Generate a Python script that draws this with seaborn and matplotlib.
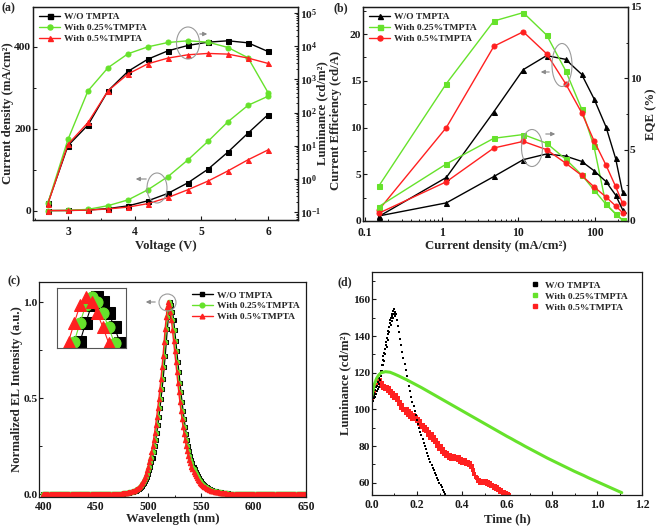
import numpy as np
import pandas as pd
import matplotlib
matplotlib.use("Agg")
import matplotlib.pyplot as plt
import seaborn as sns
from matplotlib.patches import Ellipse
from matplotlib.lines import Line2D
from matplotlib.ticker import MultipleLocator, LogLocator, FuncFormatter, NullFormatter

# ---------------- data ----------------
labels = ["W/O TMPTA", "With 0.25%TMPTA", "With 0.5%TMPTA"]

# (a) J-V-L
voltage = [2.7, 3.0, 3.3, 3.6, 3.9, 4.2, 4.5, 4.8, 5.1, 5.4, 5.7, 6.0]
j_wo = [0.0, 0.2, 1.5, 4.8, 11.5, 24, 42, 68, 101, 143, 189, 234]
j_025 = [0.0, 0.5, 3.0, 12, 26, 51, 83, 124, 169, 217, 257, 279]
j_05 = [0.0, 0.2, 1.0, 4.0, 8.5, 17, 32, 51, 72, 97, 124, 148]
lum_wo = [0.19, 10, 42, 450, 1740, 4070, 7240, 10500, 13200, 14500, 12600, 6900]
lum_025 = [0.19, 15.5, 450, 2240, 5900, 9550, 12900, 14500, 13200, 9100, 4470, 400]
lum_05 = [0.18, 11, 50, 450, 1450, 2950, 4370, 5500, 6030, 5750, 4370, 3020]

# (b) efficiency vs current density
jb = [0.15, 1.15, 4.8, 11.6, 23.4, 41.4, 67, 97, 139, 186, 229]
ce_wo = [0.47, 4.66, 11.7, 16.2, 17.7, 17.3, 15.7, 13.1, 10.1, 6.7, 3.1]
ce_025 = [3.7, 14.7, 21.4, 22.3, 19.9, 16.1, 12.0, 8.0, 1.8, 0.75, 0.1]
ce_05 = [1.15, 10.0, 18.7, 20.25, 17.9, 14.7, 11.6, 8.6, 6.0, 3.7, 1.9]
eqe_wo = [0.35, 1.27, 3.12, 4.3, 4.7, 4.55, 4.18, 3.53, 2.77, 1.82, 0.8]
eqe_025 = [1.0, 4.0, 5.8, 6.06, 5.45, 4.34, 3.24, 2.18, 1.18, 0.52, 0.07]
eqe_05 = [0.54, 2.75, 5.12, 5.58, 5.0, 4.06, 3.2, 2.4, 1.69, 1.06, 0.59]

# (c) EL spectra, 400-650 nm in 1 nm steps
wavelength = np.arange(400, 651, 1)
el_wo = [
    0.003, 0.003, 0.003, 0.003, 0.003, 0.003, 0.003, 0.003, 0.003, 0.003,  # 400
    0.003, 0.003, 0.003, 0.003, 0.003, 0.003, 0.003, 0.003, 0.003, 0.003,  # 410
    0.003, 0.003, 0.003, 0.003, 0.003, 0.003, 0.003, 0.003, 0.003, 0.003,  # 420
    0.003, 0.003, 0.003, 0.003, 0.003, 0.003, 0.003, 0.003, 0.003, 0.003,  # 430
    0.003, 0.003, 0.003, 0.003, 0.003, 0.003, 0.003, 0.003, 0.003, 0.003,  # 440
    0.003, 0.003, 0.003, 0.003, 0.003, 0.003, 0.003, 0.003, 0.003, 0.003,  # 450
    0.003, 0.004, 0.004, 0.004, 0.004, 0.004, 0.004, 0.004, 0.004, 0.004,  # 460
    0.004, 0.005, 0.005, 0.005, 0.005, 0.005, 0.005, 0.006, 0.006, 0.007,  # 470
    0.008, 0.009, 0.010, 0.011, 0.012, 0.014, 0.016, 0.018, 0.020, 0.023,  # 480
    0.026, 0.030, 0.034, 0.039, 0.045, 0.052, 0.060, 0.069, 0.080, 0.093,  # 490
    0.108, 0.125, 0.145, 0.167, 0.192, 0.220, 0.251, 0.285, 0.322, 0.362,  # 500
    0.405, 0.450, 0.497, 0.546, 0.600, 0.660, 0.720, 0.790, 0.860, 0.920,  # 510
    0.975, 1.000, 0.985, 0.950, 0.905, 0.855, 0.800, 0.745, 0.690, 0.635,  # 520
    0.580, 0.530, 0.480, 0.435, 0.392, 0.352, 0.316, 0.283, 0.253, 0.226,  # 530
    0.202, 0.181, 0.162, 0.145, 0.130, 0.117, 0.105, 0.094, 0.085, 0.076,  # 540
    0.069, 0.062, 0.056, 0.050, 0.045, 0.041, 0.037, 0.033, 0.030, 0.027,  # 550
    0.025, 0.022, 0.020, 0.018, 0.017, 0.015, 0.014, 0.013, 0.012, 0.011,  # 560
    0.010, 0.009, 0.008, 0.008, 0.007, 0.007, 0.006, 0.005, 0.005, 0.005,  # 570
    0.005, 0.005, 0.005, 0.005, 0.005, 0.005, 0.005, 0.004, 0.004, 0.004,  # 580
    0.004, 0.004, 0.004, 0.004, 0.004, 0.004, 0.004, 0.004, 0.004, 0.004,  # 590
    0.004, 0.004, 0.003, 0.003, 0.003, 0.003, 0.003, 0.003, 0.003, 0.003,  # 600
    0.003, 0.003, 0.003, 0.003, 0.003, 0.003, 0.003, 0.003, 0.003, 0.003,  # 610
    0.003, 0.003, 0.003, 0.003, 0.003, 0.003, 0.003, 0.003, 0.003, 0.003,  # 620
    0.003, 0.003, 0.003, 0.003, 0.003, 0.003, 0.003, 0.003, 0.003, 0.003,  # 630
    0.003, 0.003, 0.003, 0.003, 0.003, 0.003, 0.003, 0.003, 0.003, 0.003,  # 640
    0.003]
el_025 = [
    0.003, 0.003, 0.003, 0.003, 0.003, 0.003, 0.003, 0.003, 0.003, 0.003,  # 400
    0.003, 0.003, 0.003, 0.003, 0.003, 0.003, 0.003, 0.003, 0.003, 0.003,  # 410
    0.003, 0.003, 0.003, 0.003, 0.003, 0.003, 0.003, 0.003, 0.003, 0.003,  # 420
    0.003, 0.003, 0.003, 0.003, 0.003, 0.003, 0.003, 0.003, 0.003, 0.003,  # 430
    0.003, 0.003, 0.003, 0.003, 0.003, 0.003, 0.003, 0.003, 0.003, 0.003,  # 440
    0.003, 0.003, 0.003, 0.003, 0.003, 0.003, 0.003, 0.003, 0.003, 0.003,  # 450
    0.004, 0.004, 0.004, 0.004, 0.004, 0.004, 0.004, 0.004, 0.004, 0.004,  # 460
    0.005, 0.005, 0.005, 0.005, 0.005, 0.005, 0.006, 0.006, 0.007, 0.008,  # 470
    0.009, 0.010, 0.011, 0.012, 0.014, 0.016, 0.018, 0.020, 0.023, 0.026,  # 480
    0.030, 0.034, 0.039, 0.045, 0.052, 0.060, 0.069, 0.080, 0.093, 0.108,  # 490
    0.125, 0.145, 0.167, 0.192, 0.220, 0.251, 0.285, 0.322, 0.362, 0.405,  # 500
    0.450, 0.497, 0.546, 0.600, 0.660, 0.720, 0.790, 0.860, 0.920, 0.975,  # 510
    1.000, 0.985, 0.950, 0.905, 0.855, 0.800, 0.745, 0.690, 0.635, 0.580,  # 520
    0.530, 0.480, 0.435, 0.392, 0.352, 0.316, 0.283, 0.253, 0.226, 0.202,  # 530
    0.181, 0.162, 0.145, 0.130, 0.117, 0.105, 0.094, 0.085, 0.076, 0.069,  # 540
    0.062, 0.056, 0.050, 0.045, 0.041, 0.037, 0.033, 0.030, 0.027, 0.025,  # 550
    0.022, 0.020, 0.018, 0.017, 0.015, 0.014, 0.013, 0.012, 0.011, 0.010,  # 560
    0.009, 0.008, 0.008, 0.007, 0.007, 0.006, 0.005, 0.005, 0.005, 0.005,  # 570
    0.005, 0.005, 0.005, 0.005, 0.005, 0.005, 0.004, 0.004, 0.004, 0.004,  # 580
    0.004, 0.004, 0.004, 0.004, 0.004, 0.004, 0.004, 0.004, 0.004, 0.004,  # 590
    0.004, 0.003, 0.003, 0.003, 0.003, 0.003, 0.003, 0.003, 0.003, 0.003,  # 600
    0.003, 0.003, 0.003, 0.003, 0.003, 0.003, 0.003, 0.003, 0.003, 0.003,  # 610
    0.003, 0.003, 0.003, 0.003, 0.003, 0.003, 0.003, 0.003, 0.003, 0.003,  # 620
    0.003, 0.003, 0.003, 0.003, 0.003, 0.003, 0.003, 0.003, 0.003, 0.003,  # 630
    0.003, 0.003, 0.003, 0.003, 0.003, 0.003, 0.003, 0.003, 0.003, 0.003,  # 640
    0.003]
el_05 = [
    0.003, 0.003, 0.003, 0.003, 0.003, 0.003, 0.003, 0.003, 0.003, 0.003,  # 400
    0.003, 0.003, 0.003, 0.003, 0.003, 0.003, 0.003, 0.003, 0.003, 0.003,  # 410
    0.003, 0.003, 0.003, 0.003, 0.003, 0.003, 0.003, 0.003, 0.003, 0.003,  # 420
    0.003, 0.003, 0.003, 0.003, 0.003, 0.003, 0.003, 0.003, 0.003, 0.003,  # 430
    0.003, 0.003, 0.003, 0.003, 0.003, 0.003, 0.003, 0.003, 0.003, 0.003,  # 440
    0.003, 0.003, 0.003, 0.003, 0.003, 0.003, 0.003, 0.003, 0.003, 0.004,  # 450
    0.004, 0.004, 0.004, 0.004, 0.004, 0.004, 0.004, 0.004, 0.004, 0.005,  # 460
    0.005, 0.005, 0.005, 0.005, 0.005, 0.006, 0.006, 0.007, 0.008, 0.009,  # 470
    0.010, 0.011, 0.012, 0.014, 0.016, 0.018, 0.020, 0.023, 0.026, 0.030,  # 480
    0.034, 0.039, 0.045, 0.052, 0.060, 0.069, 0.080, 0.093, 0.108, 0.125,  # 490
    0.145, 0.167, 0.192, 0.220, 0.251, 0.285, 0.322, 0.362, 0.405, 0.450,  # 500
    0.497, 0.546, 0.600, 0.660, 0.720, 0.790, 0.860, 0.920, 0.975, 1.000,  # 510
    0.985, 0.950, 0.905, 0.855, 0.800, 0.745, 0.690, 0.635, 0.580, 0.530,  # 520
    0.480, 0.435, 0.392, 0.352, 0.316, 0.283, 0.253, 0.226, 0.202, 0.181,  # 530
    0.162, 0.145, 0.130, 0.117, 0.105, 0.094, 0.085, 0.076, 0.069, 0.062,  # 540
    0.056, 0.050, 0.045, 0.041, 0.037, 0.033, 0.030, 0.027, 0.025, 0.022,  # 550
    0.020, 0.018, 0.017, 0.015, 0.014, 0.013, 0.012, 0.011, 0.010, 0.009,  # 560
    0.008, 0.008, 0.007, 0.007, 0.006, 0.005, 0.005, 0.005, 0.005, 0.005,  # 570
    0.005, 0.005, 0.005, 0.005, 0.005, 0.004, 0.004, 0.004, 0.004, 0.004,  # 580
    0.004, 0.004, 0.004, 0.004, 0.004, 0.004, 0.004, 0.004, 0.004, 0.004,  # 590
    0.003, 0.003, 0.003, 0.003, 0.003, 0.003, 0.003, 0.003, 0.003, 0.003,  # 600
    0.003, 0.003, 0.003, 0.003, 0.003, 0.003, 0.003, 0.003, 0.003, 0.003,  # 610
    0.003, 0.003, 0.003, 0.003, 0.003, 0.003, 0.003, 0.003, 0.003, 0.003,  # 620
    0.003, 0.003, 0.003, 0.003, 0.003, 0.003, 0.003, 0.003, 0.003, 0.003,  # 630
    0.003, 0.003, 0.003, 0.003, 0.003, 0.003, 0.003, 0.003, 0.003, 0.003,  # 640
    0.003]

# (d) operational lifetime
t_wo = [0.000, 0.003, 0.005, 0.007, 0.009, 0.011, 0.013, 0.015, 0.017, 0.019,
        0.021, 0.023, 0.025, 0.027, 0.029, 0.031, 0.033, 0.035, 0.037, 0.039,
        0.041, 0.043, 0.045, 0.047, 0.049, 0.051, 0.053, 0.055, 0.057, 0.059,
        0.061, 0.063, 0.065, 0.067, 0.069, 0.071, 0.073, 0.075, 0.077, 0.079,
        0.081, 0.083, 0.085, 0.087, 0.089, 0.091, 0.093, 0.095, 0.097, 0.099,
        0.101, 0.103,
        0.105, 0.110, 0.115, 0.120, 0.125, 0.130, 0.135, 0.140, 0.145, 0.150,
        0.155, 0.160, 0.165, 0.170, 0.175, 0.180, 0.185, 0.190, 0.195, 0.200,
        0.205, 0.210, 0.215, 0.220, 0.225, 0.230, 0.235, 0.240, 0.245, 0.250,
        0.255, 0.260, 0.265, 0.270, 0.275, 0.280, 0.285, 0.290, 0.295, 0.300,
        0.305, 0.310, 0.315, 0.320, 0.325, 0.330]
lt_wo = [105, 107, 104.5, 108, 106, 109, 107, 110.5, 108.5, 112,
         110, 113, 111, 115, 112.5, 117, 114, 119, 116, 121,
         118, 124, 121, 127, 124, 129, 126.5, 131, 133, 130,
         135, 137, 134, 139, 141, 138, 143, 145, 142, 147,
         149, 146, 150, 152, 148, 151, 153.5, 150, 152, 155,
         153, 151,
         152, 149, 145.5, 142, 138.5, 135, 131.5, 128, 124.8, 121.6,
         118.5, 115.5, 112.6, 109.8, 107, 104.3, 101.7, 99.2, 96.8, 94.5,
         92.2, 90, 87.9, 85.8, 83.8, 81.9, 80, 78.2, 76.4, 74.7,
         73, 71.4, 69.8, 68.3, 66.8, 65.4, 64, 62.6, 61.3, 60,
         58.7, 57.5, 56.3, 55.1, 54, 52.9]
t_025 = [0.00, 0.01, 0.02, 0.03, 0.04, 0.06, 0.08, 0.10, 0.12, 0.14, 0.16, 0.18,
         0.20, 0.22, 0.24, 0.26, 0.28, 0.30, 0.32, 0.34, 0.36, 0.38, 0.40, 0.42,
         0.44, 0.46, 0.48, 0.50, 0.52, 0.54, 0.56, 0.58, 0.60, 0.62, 0.64, 0.66,
         0.68, 0.70, 0.72, 0.74, 0.76, 0.78, 0.80, 0.82, 0.84, 0.86, 0.88, 0.90,
         0.92, 0.94, 0.96, 0.98, 1.00, 1.02, 1.04, 1.06, 1.08, 1.10, 1.11]
lt_025 = [107.5, 113.5, 116.8, 118.8, 120.0, 120.6, 120.3, 119.3, 118.2, 117.0, 115.8, 114.5,
          113.2, 111.9, 110.5, 109.1, 107.7, 106.3, 104.9, 103.5, 102.1, 100.7, 99.3, 97.9,
          96.5, 95.1, 93.7, 92.3, 90.9, 89.5, 88.1, 86.7, 85.3, 84.0, 82.6, 81.3,
          79.9, 78.6, 77.3, 76.0, 74.7, 73.4, 72.2, 71.0, 69.8, 68.6, 67.4, 66.2,
          65.1, 64.0, 62.8, 61.7, 60.6, 59.5, 58.4, 57.3, 56.2, 55.1, 54.6]
t_05 = [0.000, 0.005, 0.010, 0.015, 0.020, 0.025, 0.030, 0.035, 0.040, 0.045,
        0.050, 0.055, 0.060, 0.065, 0.070, 0.075, 0.080, 0.085, 0.090, 0.095,
        0.100, 0.105, 0.110, 0.115, 0.120, 0.125, 0.130, 0.135, 0.140, 0.145,
        0.150, 0.155, 0.160, 0.165, 0.170, 0.175, 0.180, 0.185, 0.190, 0.195,
        0.200, 0.205, 0.210, 0.215, 0.220, 0.225, 0.230, 0.235, 0.240, 0.245,
        0.250, 0.255, 0.260, 0.265, 0.270, 0.275, 0.280, 0.285, 0.290, 0.295,
        0.300, 0.305, 0.310, 0.315, 0.320, 0.325, 0.330, 0.335, 0.340, 0.345,
        0.350, 0.355, 0.360, 0.365, 0.370, 0.375, 0.380, 0.385, 0.390, 0.395,
        0.400, 0.405, 0.410, 0.415, 0.420, 0.425, 0.430, 0.435, 0.440, 0.445,
        0.450, 0.455, 0.460, 0.465, 0.470, 0.475, 0.480, 0.485, 0.490, 0.495,
        0.500, 0.505, 0.510, 0.515, 0.520, 0.525, 0.530, 0.535, 0.540, 0.545,
        0.550, 0.555, 0.560, 0.565, 0.570, 0.575, 0.580, 0.585, 0.590, 0.595,
        0.600, 0.605, 0.610]
lt_05 = [106, 108.5, 109.5, 113, 113.5, 116.5, 115.5, 116, 113, 114.5,
         111.5, 113, 111, 112.5, 110, 111.5, 109, 110, 107.5, 109,
         106.5, 108, 105, 106, 103, 104, 101, 102.5, 99.5, 100.5,
         98, 100, 97, 99, 96, 98, 95, 96.8, 95, 96,
         93.5, 95, 92, 93.5, 90.5, 91.5, 89, 90.5, 88, 89.5,
         86, 87.5, 84.5, 86.5, 83.5, 85, 82, 83.5, 80, 81.5,
         78.5, 80, 77, 78.5, 75.5, 77, 74.5, 76, 73.5, 75,
         73, 74.8, 72.8, 74.5, 73, 74.2, 72.5, 73.8, 71.5, 72.8,
         71, 72.5, 70.5, 72.2, 70.2, 71.5, 69.5, 70.5, 68.5, 69,
         67, 65, 63, 62.5, 61, 61.5, 60, 61, 60, 61.2,
         59.8, 60.8, 59.2, 60.2, 58.8, 59.6, 58, 59, 57.3, 58.2,
         56.8, 57.6, 55.8, 56.6, 55, 55.8, 54.3, 55, 53.8, 54.4,
         53.4, 53.8, 53.1]

# ---------------- style ----------------
BLACK = "#000000"
GREEN = "#66e22b"
RED = "#ff2020"
colors = [BLACK, GREEN, RED]

sns.set_style("ticks")
plt.rcParams.update({
    "font.family": ["Liberation Serif", "DejaVu Serif"],
    "font.weight": "bold",
    "axes.labelweight": "bold",
    "font.size": 8.5,
    "axes.labelsize": 9.2,
    "xtick.labelsize": 8.4,
    "ytick.labelsize": 8.2,
    "mathtext.fontset": "custom",
    "mathtext.rm": "Liberation Serif:bold",
    "mathtext.bf": "Liberation Serif:bold",
    "mathtext.it": "Liberation Serif:bold:italic",
    "mathtext.default": "bf",
    "axes.linewidth": 0.9,
    "axes.edgecolor": "#1a1a1a",
    "xtick.color": "#1a1a1a",
    "ytick.color": "#1a1a1a",
    "xtick.major.size": 3.0, "ytick.major.size": 3.0,
    "xtick.minor.size": 1.8, "ytick.minor.size": 1.8,
    "xtick.major.width": 0.8, "ytick.major.width": 0.8,
    "xtick.minor.width": 0.7, "ytick.minor.width": 0.7,
    "xtick.major.pad": 3.0, "ytick.major.pad": 1.2,
})

W, H = 661, 529
fig = plt.figure(figsize=(W / 100, H / 100), dpi=100)


def rect(l, t, r, b):
    return [l / W, 1 - b / H, (r - l) / W, (b - t) / H]


def fpt(x, y):
    return (x / W, 1 - y / H)


def ellipse(cx, cy, w, h):
    e = Ellipse(fpt(cx, cy), w / W, h / H, transform=fig.transFigure,
                fill=False, ec="#9a9a9a", lw=0.8)
    fig.add_artist(e)


def arrow(x0, y0, x1, y1):
    fig.add_artist(matplotlib.patches.FancyArrowPatch(
        fpt(x0, y0), fpt(x1, y1), transform=fig.transFigure,
        arrowstyle="-|>", mutation_scale=6, color="#8a8a8a", lw=0.8))


legend_kw = dict(frameon=False, prop={"size": 6.8, "weight": "bold"},
                 handlelength=2.3, handletextpad=0.4, labelspacing=0.25,
                 borderaxespad=0.2)

# ================= (a) =================
axa = fig.add_axes(rect(33, 7, 298, 220))
axa2 = axa.twinx()
axa2.set_yscale("log")
mk_a = ["s", "o", "^"]
for y, c, m in zip([j_wo, j_025, j_05], colors, mk_a):
    sns.lineplot(x=voltage, y=y, ax=axa, color=c, marker=m, markersize=3.6,
                 markeredgecolor=c, linewidth=1.0)
for y, c, m in zip([lum_wo, lum_025, lum_05], colors, mk_a):
    sns.lineplot(x=voltage, y=y, ax=axa2, color=c, marker=m, markersize=3.6,
                 markeredgecolor=c, linewidth=1.0)
axa.set_xlim(2.475, 6.45)
axa.set_ylim(-23, 497)
axa2.set_ylim(10 ** -1.24, 10 ** 5.18)
axa.xaxis.set_major_locator(MultipleLocator(1))
axa.xaxis.set_minor_locator(MultipleLocator(0.5))
axa.yaxis.set_major_locator(MultipleLocator(200))
axa.yaxis.set_minor_locator(MultipleLocator(100))
axa2.yaxis.set_major_locator(LogLocator(base=10, numticks=10))
axa2.yaxis.set_minor_locator(LogLocator(base=10, subs=np.arange(2, 10), numticks=20))
axa2.yaxis.set_minor_formatter(NullFormatter())
axa2.yaxis.set_major_formatter(FuncFormatter(lambda v, p: r"$10^{%d}$" % round(np.log10(v))))
for ax in (axa, axa2):
    ax.tick_params(which="both", direction="in")
axa.tick_params(axis="x", pad=4)
axa.set_xlabel("Voltage (V)")
axa.set_ylabel("Current density (mA/cm²)")
axa2.set_ylabel("Luminance (cd/m²)")
axa.xaxis.set_label_coords(0.5, -0.092)
axa.yaxis.set_label_coords(-0.072, 0.5)
axa2.yaxis.set_label_coords(1.068, 0.5)
handles = [Line2D([], [], color=c, marker=m, ms=3.6, lw=1.0) for c, m in zip(colors, mk_a)]
axa2.legend(handles, labels, loc="upper left", bbox_to_anchor=(0.0, 1.0), **legend_kw)
fig.text(*fpt(2, 8), "(a)", fontsize=8.5, fontweight="bold", va="center")
ellipse(188, 43, 23, 32)
arrow(197, 34, 210, 34)
ellipse(157, 188, 20, 30)
arrow(149, 179, 133, 179)

# ================= (b) =================
axb = fig.add_axes(rect(363, 7, 628, 221))
axb2 = axb.twinx()
axb.set_xscale("log")
mk_b = ["^", "s", "o"]
for y, c, m in zip([ce_wo, ce_025, ce_05], colors, mk_b):
    sns.lineplot(x=jb, y=y, ax=axb, color=c, marker=m, markersize=3.6,
                 markeredgecolor=c, linewidth=1.0)
for y, c, m in zip([eqe_wo, eqe_025, eqe_05], colors, mk_b):
    sns.lineplot(x=jb, y=y, ax=axb2, color=c, marker=m, markersize=3.6,
                 markeredgecolor=c, linewidth=1.0)
axb.set_xlim(0.094, 270)
axb.set_ylim(0, 22.9)
axb2.set_ylim(0, 15)
axb.xaxis.set_major_locator(LogLocator(base=10, numticks=10))
axb.xaxis.set_minor_locator(LogLocator(base=10, subs=np.arange(2, 10), numticks=20))
axb.xaxis.set_minor_formatter(NullFormatter())
axb.xaxis.set_major_formatter(FuncFormatter(lambda v, p: "%g" % v))
axb.yaxis.set_major_locator(MultipleLocator(5))
axb.yaxis.set_minor_locator(MultipleLocator(2.5))
axb2.yaxis.set_major_locator(MultipleLocator(5))
axb2.yaxis.set_minor_locator(MultipleLocator(2.5))
for ax in (axb, axb2):
    ax.tick_params(which="both", direction="in")
axb.tick_params(axis="x", pad=4)
axb.set_xlabel("Current density (mA/cm²)")
axb.set_ylabel("Current Efficiency (cd/A)")
axb2.set_ylabel("EQE (%)")
axb.xaxis.set_label_coords(0.5, -0.088)
axb.yaxis.set_label_coords(-0.08, 0.47)
axb2.yaxis.set_label_coords(1.064, 0.5)
handles = [Line2D([], [], color=c, marker=m, ms=3.6, lw=1.0) for c, m in zip(colors, mk_b)]
axb2.legend(handles, labels, loc="upper left", bbox_to_anchor=(0.0, 1.0), **legend_kw)
fig.text(*fpt(333, 8), "(b)", fontsize=8.5, fontweight="bold", va="center")
ellipse(562, 65, 20, 43)
arrow(552, 72, 538, 72)
ellipse(532, 148, 21, 37)
arrow(543, 134, 558, 134)

# ================= (c) =================
axc = fig.add_axes(rect(39, 282, 306, 497))
mk_c = ["s", "o", "^"]
for y, c, m in zip([el_wo, el_025, el_05], colors, mk_c):
    sns.lineplot(x=wavelength, y=y, ax=axc, color=c, marker=m, markersize=3.2,
                 markeredgecolor=c, linewidth=1.0)
axc.set_xlim(396, 650)
axc.set_ylim(-0.013, 1.104)
axc.xaxis.set_major_locator(MultipleLocator(50))
axc.xaxis.set_minor_locator(MultipleLocator(25))
axc.yaxis.set_major_locator(MultipleLocator(0.5))
axc.yaxis.set_minor_locator(MultipleLocator(0.25))
axc.yaxis.set_major_formatter(FuncFormatter(lambda v, p: "%.1f" % v))
axc.tick_params(which="both", direction="in")
axc.set_xlabel("Wavelength (nm)")
axc.set_ylabel("Normalized EL Intensity (a.u.)")
axc.xaxis.set_label_coords(0.5, -0.074)
axc.yaxis.set_label_coords(-0.06, 0.5)
handles = [Line2D([], [], color=c, marker=m, ms=3.4, lw=1.0) for c, m in zip(colors, mk_c)]
axc.legend(handles, labels, loc="upper left", bbox_to_anchor=(0.55, 0.985), **legend_kw)
fig.text(*fpt(7, 281), "(c)", fontsize=8.5, fontweight="bold", va="center")
ellipse(167.5, 302.5, 17, 17)
arrow(158, 302, 143, 302)

axi = fig.add_axes(rect(57, 288, 126, 348))
for y, c, m in zip([el_wo, el_025, el_05], colors, mk_c):
    sns.lineplot(x=wavelength, y=y, ax=axi, color=c, marker=m, markersize=8,
                 markeredgecolor=c, linewidth=0.8)
axi.set_xlim(514, 526)
axi.set_ylim(0.84, 1.03)
axi.set_xticks([])
axi.set_yticks([])
axi.set_xlabel("")
axi.set_ylabel("")
for s in axi.spines.values():
    s.set_color("#555555")
    s.set_linewidth(0.8)

# ================= (d) =================
axd = fig.add_axes(rect(372, 272, 642, 495))
sns.lineplot(x=t_025, y=lt_025, ax=axd, color=GREEN, linewidth=2.2)
sns.scatterplot(x=t_05, y=lt_05, ax=axd, color=RED, marker="s", s=6, linewidth=0)
sns.scatterplot(x=t_wo, y=lt_wo, ax=axd, color=BLACK, marker="s", s=3, linewidth=0)
axd.set_xlim(0, 1.2)
axd.set_ylim(53.3, 175)
axd.xaxis.set_major_locator(MultipleLocator(0.2))
axd.xaxis.set_minor_locator(MultipleLocator(0.1))
axd.yaxis.set_major_locator(MultipleLocator(20))
axd.yaxis.set_minor_locator(MultipleLocator(10))
axd.xaxis.set_major_formatter(FuncFormatter(lambda v, p: "%.1f" % v))
axd.tick_params(which="both", direction="in")
axd.set_xlabel("Time (h)")
axd.set_ylabel("Luminance (cd/m²)")
axd.xaxis.set_label_coords(0.5, -0.081)
axd.yaxis.set_label_coords(-0.078, 0.5)
handles = [Line2D([], [], color=c, marker="s", ms=2.2, ls="none") for c in colors]
axd.legend(handles, labels, loc="upper left", bbox_to_anchor=(0.56, 0.985),
           frameon=False, prop={"size": 6.8, "weight": "bold"}, handlelength=1.2,
           handletextpad=0.5, labelspacing=0.25, borderaxespad=0.2)
fig.text(*fpt(338, 282), "(d)", fontsize=8.5, fontweight="bold", va="center")

fig.savefig("out.png", dpi=100)
